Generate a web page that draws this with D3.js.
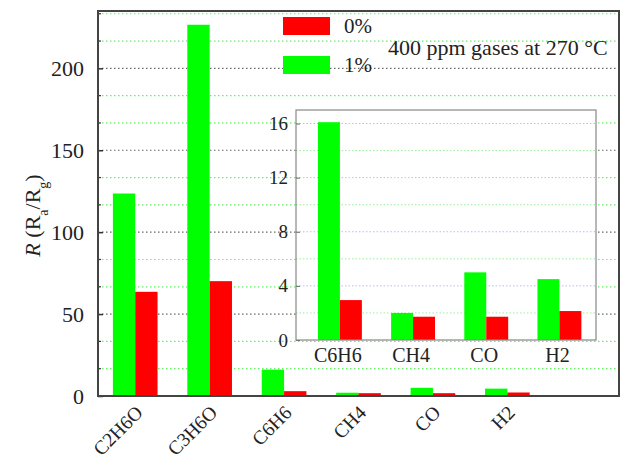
<!DOCTYPE html>
<html>
<head>
<meta charset="utf-8">
<script src="https://cdn.jsdelivr.net/npm/d3@7"></script>
<style>
  html, body { margin: 0; padding: 0; background: #fff; }
  svg { display: block; }
  text { font-family: "Liberation Serif", "Times New Roman", serif; fill: #222; }
</style>
</head>
<body>
<svg id="chart" width="623" height="461"></svg>
<script>
// ---- data ----
const categories = ["C2H6O", "C3H6O", "C6H6", "CH4", "CO", "H2"];
const seriesNames = ["0%", "1%"];
const values0 = [63.6, 70.1, 2.95, 1.72, 1.72, 2.14];   // 0% (red)
const values1 = [123.6, 226.6, 16.1, 2.0, 5.0, 4.5];    // 1% (green)
const mainTicks = [0, 50, 100, 150, 200];
const insetCategories = ["C6H6", "CH4", "CO", "H2"];
const insetTicks = [0, 4, 8, 12, 16];
const annotation = "400 ppm gases at 270 \u00B0C";

const colors = { "0%": "#ff0000", "1%": "#00ff00" };
const SERIF = "'Liberation Serif', 'Times New Roman', serif";

const svg = d3.select("#chart").attr("font-family", SERIF);

// ---- main plot ----
const M = { left: 98, right: 619, top: 11, bottom: 396 };
const x = d3.scaleLinear().domain([-0.5, 6.5]).range([M.left, M.right]);
const y = d3.scaleLinear().domain([0, 235]).range([M.bottom, M.top]);
const slot = x(1) - x(0);
const bw = slot * 0.3;

// gridlines
const minorMain = d3.range(1, 15).map(i => i * 50 / 3).filter(v => Math.abs(v / 50 - Math.round(v / 50)) > 1e-6);
const gMainGrid = svg.append("g");
gMainGrid.selectAll("line.minor").data(minorMain).join("line")
  .attr("x1", M.left).attr("x2", M.right)
  .attr("y1", d => y(d)).attr("y2", d => y(d))
  .attr("stroke", "#66ee66").attr("stroke-width", 1.2).attr("stroke-dasharray", "1.5,2.5");
gMainGrid.selectAll("line.major").data(mainTicks.slice(1)).join("line")
  .attr("x1", M.left).attr("x2", M.right)
  .attr("y1", d => y(d)).attr("y2", d => y(d))
  .attr("stroke", "#666").attr("stroke-width", 1.2).attr("stroke-dasharray", "1.5,2.5");

// bars
const gBars = svg.append("g");
categories.forEach((c, i) => {
  gBars.append("rect")
    .attr("x", x(i) - bw).attr("width", bw)
    .attr("y", y(values1[i])).attr("height", y(0) - y(values1[i]))
    .attr("fill", colors["1%"]);
  gBars.append("rect")
    .attr("x", x(i)).attr("width", bw)
    .attr("y", y(values0[i])).attr("height", y(0) - y(values0[i]))
    .attr("fill", colors["0%"]);
});

// y axis ticks (inward) and labels
const yAxis = d3.axisLeft(y).tickValues(mainTicks).tickSize(-5).tickPadding(14).tickFormat(d3.format("d"));
const gY = svg.append("g").attr("transform", `translate(${M.left},0)`).call(yAxis)
  .attr("font-family", SERIF);
gY.select(".domain").remove();
gY.selectAll(".tick line").attr("stroke", "#333").attr("stroke-width", 1.5);
gY.selectAll(".tick text").style("font-family", SERIF).style("font-size", "22px").attr("fill", "#222");
gY.selectAll("line.minor").data(minorMain).join("line").attr("class", "minor")
  .attr("x1", 0).attr("x2", 3).attr("y1", d => y(d)).attr("y2", d => y(d))
  .attr("stroke", "#333").attr("stroke-width", 1.2);

// x labels, rotated
svg.append("g").selectAll("text").data(categories).join("text")
  .attr("transform", (d, i) => `translate(${x(i) + 4},${M.bottom + 13}) rotate(-45)`)
  .attr("text-anchor", "end")
  .attr("dy", "0.35em")
  .style("font-family", SERIF)
  .style("font-size", "19.5px")
  .text(d => d);

// y label
const yl = svg.append("text")
  .attr("transform", `translate(40,${(M.top + M.bottom) / 2 + 12}) rotate(-90)`)
  .attr("text-anchor", "middle")
  .style("font-family", SERIF)
  .style("font-size", "22px");
yl.append("tspan").style("font-style", "italic").text("R");
yl.append("tspan").text(" (R");
yl.append("tspan").attr("baseline-shift", "sub").style("font-size", "14px").text("a");
yl.append("tspan").text("/R");
yl.append("tspan").attr("baseline-shift", "sub").style("font-size", "14px").text("g");
yl.append("tspan").text(")");

// ---- inset ----
const I = { left: 296, right: 596, top: 110, bottom: 340 };
const xi = d3.scaleLinear().domain([-0.6, 3.5]).range([I.left, I.right]);
const yi = d3.scaleLinear().domain([0, 17]).range([I.bottom, I.top]);
const bwi = (xi(1) - xi(0)) * 0.3;
const gIn = svg.append("g");
gIn.append("rect").attr("x", I.left).attr("y", I.top)
  .attr("width", I.right - I.left).attr("height", I.bottom - I.top).attr("fill", "#fff");
const insetMinor = [2, 6, 10, 14];
gIn.selectAll("line.minor").data(insetMinor).join("line")
  .attr("x1", I.left).attr("x2", I.right).attr("y1", d => yi(d)).attr("y2", d => yi(d))
  .attr("stroke", "#99ee99").attr("stroke-width", 1).attr("stroke-dasharray", "1.5,2");
gIn.selectAll("line.major").data(insetTicks.slice(1)).join("line")
  .attr("x1", I.left).attr("x2", I.right).attr("y1", d => yi(d)).attr("y2", d => yi(d))
  .attr("stroke", "#bbbbf5").attr("stroke-width", 1).attr("stroke-dasharray", "1.5,2");
insetCategories.forEach((c, j) => {
  const i = categories.indexOf(c);
  gIn.append("rect")
    .attr("x", xi(j) - bwi).attr("width", bwi)
    .attr("y", yi(values1[i])).attr("height", yi(0) - yi(values1[i]))
    .attr("fill", colors["1%"]);
  gIn.append("rect")
    .attr("x", xi(j)).attr("width", bwi)
    .attr("y", yi(values0[i])).attr("height", yi(0) - yi(values0[i]))
    .attr("fill", colors["0%"]);
});
const yAxisI = d3.axisLeft(yi).tickValues(insetTicks).tickSize(-4).tickPadding(8).tickFormat(d3.format("d"));
const gYi = gIn.append("g").attr("transform", `translate(${I.left},0)`).call(yAxisI)
  .attr("font-family", SERIF);
gYi.select(".domain").remove();
gYi.selectAll(".tick line").attr("stroke", "#666");
gYi.selectAll(".tick text").style("font-family", SERIF).style("font-size", "19px").attr("fill", "#222");
gIn.selectAll("text.cat").data(insetCategories).join("text").attr("class", "cat")
  .attr("x", (d, j) => xi(j) - 2).attr("y", I.bottom + 22)
  .attr("text-anchor", "middle").style("font-family", SERIF).style("font-size", "20px").text(d => d);
gIn.append("rect").attr("x", I.left).attr("y", I.top)
  .attr("width", I.right - I.left).attr("height", I.bottom - I.top)
  .attr("fill", "none").attr("stroke", "#888").attr("stroke-width", 1.2);

// ---- legend ----
const gLeg = svg.append("g");
seriesNames.forEach((name, k) => {
  const ly = 17 + k * 39;
  gLeg.append("rect").attr("x", 283).attr("y", ly).attr("width", 47).attr("height", 18)
    .attr("fill", colors[name]);
  gLeg.append("text").attr("x", 344).attr("y", ly + 16)
    .style("font-family", SERIF).style("font-size", "21px").text(name);
});
svg.append("text").attr("x", 388).attr("y", 55)
  .style("font-family", SERIF).style("font-size", "22px").text(annotation);

// ---- frame ----
svg.append("rect").attr("x", M.left).attr("y", M.top)
  .attr("width", M.right - M.left).attr("height", M.bottom - M.top)
  .attr("fill", "none").attr("stroke", "#444").attr("stroke-width", 2);
</script>
</body>
</html>
